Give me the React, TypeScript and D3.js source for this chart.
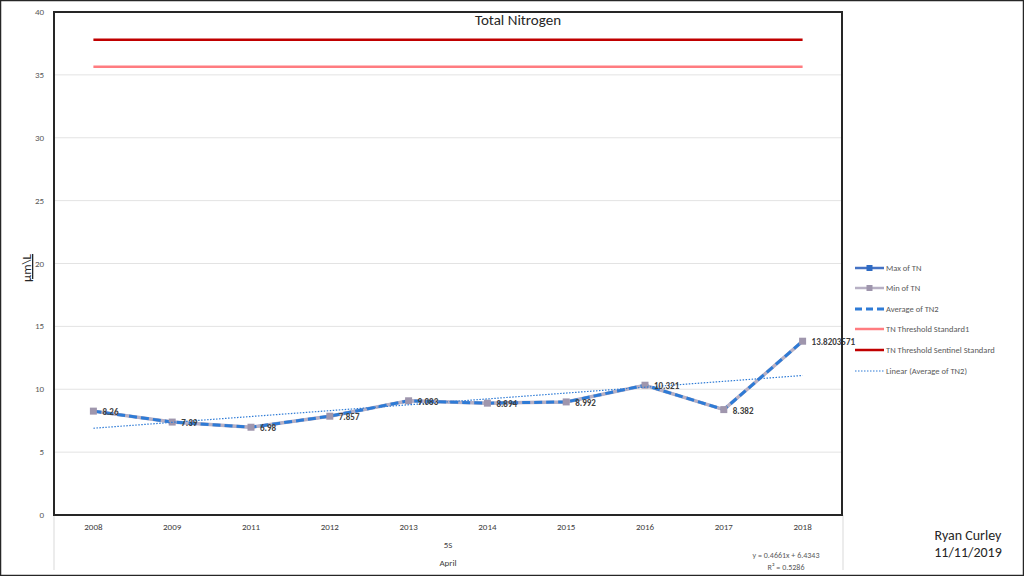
import React from "react";
import * as d3 from "d3";

const years = ["2008", "2009", "2011", "2012", "2013", "2014", "2015", "2016", "2017", "2018"];
const avgTN = [8.26, 7.39, 6.98, 7.857, 9.083, 8.894, 8.992, 10.321, 8.382, 13.8203571];
const avgLabels = ["8.26", "7.39", "6.98", "7.857", "9.083", "8.894", "8.992", "10.321", "8.382", "13.8203571"];
const maxTN = [8.26, 7.39, 6.98, 7.857, 9.083, 8.894, 8.992, 10.321, 8.382, 13.8203571];
const minTN = [8.26, 7.39, 6.98, 7.857, 9.083, 8.894, 8.992, 10.321, 8.382, 13.8203571];
const thresholdStandard = 35.65;
const thresholdSentinel = 37.8;
const trendSlope = 0.4661;
const trendIntercept = 6.4343;
const yTicks = [0, 5, 10, 15, 20, 25, 30, 35, 40];
const legendItems = [
  "Max of TN",
  "Min of TN",
  "Average of TN2",
  "TN Threshold Standard1",
  "TN Threshold Sentinel Standard",
  "Linear (Average of TN2)",
];

const W = 1024;
const H = 576;
const plot = { left: 54, right: 842, top: 12, bottom: 515 };
const font = "Carlito, 'Liberation Sans', Arial, sans-serif";

export default function App() {
  const x = d3.scaleBand<string>().domain(years).range([plot.left, plot.right]);
  const cx = (i: number) => (x(years[i]) as number) + x.bandwidth() / 2;
  const y = d3.scaleLinear().domain([0, 40]).range([plot.bottom, plot.top]);

  const line = d3
    .line<number>()
    .x((_, i) => cx(i))
    .y((d) => y(d));

  const trendPts = [0, years.length - 1].map((i) => [cx(i), y(trendSlope * (i + 1) + trendIntercept)]);

  const legendY = [268, 288, 309, 329, 350, 371];

  return (
    <svg width={W} height={H} style={{ position: "absolute", left: 0, top: 0, fontFamily: font }}>
      <rect x={0} y={0} width={W} height={H} fill="#fff" />
      <rect x={0.5} y={0.5} width={W - 1} height={H - 1} fill="none" stroke="#262626" strokeWidth={1.5} />

      {/* grid */}
      {yTicks.map((t) => (
        <line key={t} x1={plot.left} x2={plot.right} y1={y(t)} y2={y(t)} stroke="#e3e3e3" strokeWidth={1} />
      ))}
      {yTicks.map((t) => (
        <text key={"l" + t} x={44} y={y(t) + 3} fontSize={9} fill="#595959" textAnchor="end">
          {t}
        </text>
      ))}

      {/* category axis separators */}
      <line x1={plot.left} x2={plot.left} y1={plot.bottom} y2={570} stroke="#d9d9d9" />
      <line x1={plot.right + 1} x2={plot.right + 1} y1={plot.bottom} y2={570} stroke="#d9d9d9" />

      {/* thresholds */}
      <line x1={cx(0)} x2={cx(years.length - 1)} y1={y(thresholdStandard)} y2={y(thresholdStandard)} stroke="#ff7c80" strokeWidth={2.5} />
      <line x1={cx(0)} x2={cx(years.length - 1)} y1={y(thresholdSentinel)} y2={y(thresholdSentinel)} stroke="#c00000" strokeWidth={2.5} />

      {/* series */}
      <path d={line(maxTN) || ""} fill="none" stroke="#4472c4" strokeWidth={2.5} />
      <path d={line(minTN) || ""} fill="none" stroke="#b7b0c4" strokeWidth={3.5} />
      <path d={line(avgTN) || ""} fill="none" stroke="#2e7bd6" strokeWidth={3} strokeDasharray="8 4" />
      {minTN.map((v, i) => (
        <rect key={"m" + i} x={cx(i) - 3.5} y={y(v) - 3.5} width={7} height={7} fill="#9f96ad" />
      ))}

      {/* trend line */}
      <line x1={trendPts[0][0]} y1={trendPts[0][1]} x2={trendPts[1][0]} y2={trendPts[1][1]} stroke="#2e7bd6" strokeWidth={1.2} strokeDasharray="1.5 1.5" />

      {/* data labels */}
      {avgTN.map((v, i) => (
        <text key={"dl" + i} x={cx(i) + 9} y={y(v) + 4} fontSize={9} fontWeight="bold" fill="#404040">
          {avgLabels[i]}
        </text>
      ))}

      {/* frame */}
      <path
        d={`M${plot.left},${plot.top} H${plot.right} V${plot.bottom} H${plot.left} Z`}
        fill="none"
        stroke="#262626"
        strokeWidth={2}
      />

      {/* x labels */}
      {years.map((yr, i) => (
        <text key={yr} x={cx(i)} y={530} fontSize={9} fill="#404040" textAnchor="middle">
          {yr}
        </text>
      ))}
      <text x={448} y={548} fontSize={9} fill="#404040" textAnchor="middle">5S</text>
      <text x={448} y={566} fontSize={9} fill="#404040" textAnchor="middle">April</text>

      {/* equation */}
      <text x={786} y={558} fontSize={8} fill="#595959" textAnchor="middle">y = 0.4661x + 6.4343</text>
      <text x={786} y={570} fontSize={8} fill="#595959" textAnchor="middle">R² = 0.5286</text>

      {/* title */}
      <text x={518} y={25} fontSize={15} fill="#262626" textAnchor="middle">Total Nitrogen</text>

      {/* y axis title */}
      <text
        transform={`translate(31,268) rotate(-90)`}
        fontSize={13}
        fill="#262626"
        textAnchor="middle"
        textDecoration="underline"
      >
        µm\L
      </text>

      {/* legend */}
      {legendItems.map((name, i) => {
        const ly = legendY[i];
        const x1 = 855;
        const x2 = 884;
        let sample: React.ReactNode = null;
        if (i === 0)
          sample = (
            <g>
              <line x1={x1} x2={x2} y1={ly} y2={ly} stroke="#4472c4" strokeWidth={2.5} />
              <rect x={(x1 + x2) / 2 - 3} y={ly - 3} width={6} height={6} fill="#2e6bc4" />
            </g>
          );
        else if (i === 1)
          sample = (
            <g>
              <line x1={x1} x2={x2} y1={ly} y2={ly} stroke="#b7b0c4" strokeWidth={2.5} />
              <rect x={(x1 + x2) / 2 - 3} y={ly - 3} width={6} height={6} fill="#9f96ad" />
            </g>
          );
        else if (i === 2)
          sample = <line x1={x1} x2={x2} y1={ly} y2={ly} stroke="#2e7bd6" strokeWidth={3} strokeDasharray="7 4" />;
        else if (i === 3)
          sample = <line x1={x1} x2={x2} y1={ly} y2={ly} stroke="#ff7c80" strokeWidth={2.5} />;
        else if (i === 4)
          sample = <line x1={x1} x2={x2} y1={ly} y2={ly} stroke="#c00000" strokeWidth={2.5} />;
        else
          sample = <line x1={x1} x2={x2} y1={ly} y2={ly} stroke="#2e7bd6" strokeWidth={1.2} strokeDasharray="1.5 1.5" />;
        return (
          <g key={name}>
            {sample}
            <text x={886} y={ly + 3} fontSize={8.5} fill="#595959">
              {name}
            </text>
          </g>
        );
      })}

      {/* author */}
      <text x={968} y={540} fontSize={14} fill="#262626" textAnchor="middle">Ryan Curley</text>
      <text x={968} y={557} fontSize={14} fill="#262626" textAnchor="middle">11/11/2019</text>
    </svg>
  );
}
